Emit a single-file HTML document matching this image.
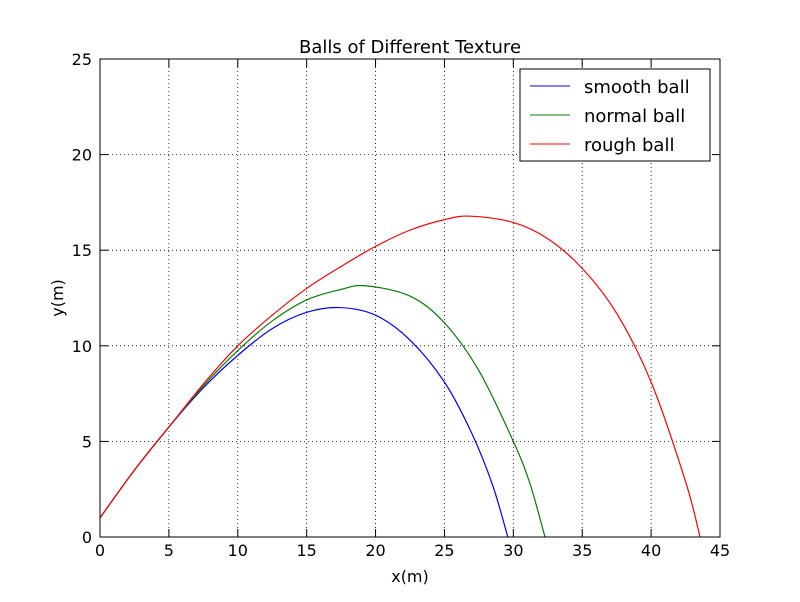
<!DOCTYPE html>
<html><head><meta charset="utf-8"><style>
body{margin:0;background:#fff;}
svg text{font-family:"DejaVu Sans","Liberation Sans",sans-serif;}
</style></head><body>
<svg id="chart" width="800" height="597" xmlns="http://www.w3.org/2000/svg">
<rect width="800" height="597" fill="#fff"/>
<g id="grid"></g>
<g id="series"></g>
<rect x="100" y="59" width="620" height="478" fill="none" stroke="#000" stroke-width="1"/>
<g id="ticks"></g>
<text x="410" y="53" font-size="18" text-anchor="middle">Balls of Different Texture</text>
<text x="410" y="582" font-size="16" text-anchor="middle">x(m)</text>
<text transform="translate(63,298) rotate(-90)" font-size="16" text-anchor="middle">y(m)</text>
<g>
<rect x="520" y="69" width="190" height="92" fill="#fff" stroke="#000"/>
<line x1="530" y1="86" x2="570" y2="86" stroke="#0000ff"/>
<text x="584" y="93" font-size="18">smooth ball</text>
<line x1="530" y1="115" x2="570" y2="115" stroke="#008000"/>
<text x="584" y="122" font-size="18">normal ball</text>
<line x1="530" y1="144" x2="570" y2="144" stroke="#ff0000"/>
<text x="584" y="151" font-size="18">rough ball</text>
</g>
</svg>
<script>
const xTicks=[0,5,10,15,20,25,30,35,40,45];
const yTicks=[0,5,10,15,20,25];
const smoothX=[0,2.5,5,7.5,10,12.5,15,17.4,20,22.5,25,27,28.5,29.6];
const smoothY=[1,3.5,5.75,7.8,9.5,10.9,11.75,12.0,11.6,10.3,8.1,5.4,2.7,0];
const normalX=[0,2.5,5,7.5,10,12.5,15,17.5,19.3,22.5,25,27.5,30,31.2,32.3];
const normalY=[1,3.5,5.75,7.9,9.75,11.3,12.4,12.95,13.14,12.6,11.2,8.7,5.0,2.8,0];
const roughX=[0,2.5,5,7.5,10,12.5,15,17.5,20,22.5,25,26.9,30,32.5,35,37.5,40,42.5,43.55];
const roughY=[1,3.5,5.75,8.0,10.0,11.6,13.0,14.15,15.2,16.05,16.6,16.78,16.45,15.6,14.05,11.7,8.1,2.9,0];
const NS="http://www.w3.org/2000/svg";
const X=v=>100+v/45*620, Y=v=>537-v/25*478;
const grid=document.getElementById('grid'),ticks=document.getElementById('ticks'),ser=document.getElementById('series');
function mk(t,a,p){const e=document.createElementNS(NS,t);for(const k in a)e.setAttribute(k,a[k]);p.appendChild(e);return e;}
xTicks.forEach(v=>{
 let g=mk('line',{x1:X(v),x2:X(v),y1:59,y2:537,stroke:'#000','stroke-dasharray':'1,3','stroke-width':0.8},grid);
 
 
 let t=mk('line',{x1:X(v),x2:X(v),y1:537,y2:529,stroke:'#000'},ticks);
 
 
 let t2=mk('line',{x1:X(v),x2:X(v),y1:59,y2:67,stroke:'#000'},ticks);
 
 
 let l=mk('text',{x:X(v),y:556,'font-size':16,'text-anchor':'middle'},ticks);l.textContent=v;
 
 
});
yTicks.forEach(v=>{
 let g=mk('line',{x1:100,x2:720,y1:Y(v),y2:Y(v),stroke:'#000','stroke-dasharray':'1,3','stroke-width':0.8},grid);
 
 
 let t=mk('line',{x1:100,x2:108,y1:Y(v),y2:Y(v),stroke:'#000'},ticks);
 
 
 let t2=mk('line',{x1:712,x2:720,y1:Y(v),y2:Y(v),stroke:'#000'},ticks);
 
 
 let l=mk('text',{x:92,y:Y(v)+6,'font-size':16,'text-anchor':'end'},ticks);l.textContent=v;
 
 
});
function path(xs,ys){
 const p=xs.map((x,i)=>[X(x),Y(ys[i])]);let d='M'+p[0][0]+','+p[0][1];
 for(let i=0;i<p.length-1;i++){const p0=p[Math.max(i-1,0)],p1=p[i],p2=p[i+1],p3=p[Math.min(i+2,p.length-1)];
  d+=' C'+(p1[0]+(p2[0]-p0[0])/6)+','+(p1[1]+(p2[1]-p0[1])/6)+' '+(p2[0]-(p3[0]-p1[0])/6)+','+(p2[1]-(p3[1]-p1[1])/6)+' '+p2[0]+','+p2[1];}
 return d;}
[[smoothX,smoothY,'#0000ff','smooth-ball-line'],[normalX,normalY,'#008000','normal-ball-line'],[roughX,roughY,'#ff0000','rough-ball-line']].forEach(s=>{
 let e=mk('path',{d:path(s[0],s[1]),fill:'none',stroke:s[2],'stroke-width':1.2},ser);
 
 
});
</script>
</body></html>
